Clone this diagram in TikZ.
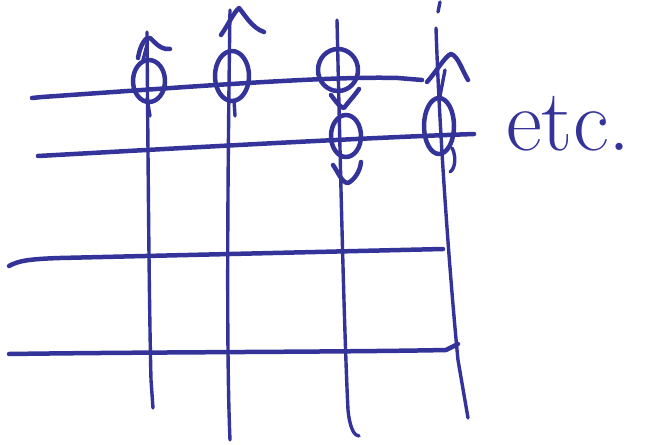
\documentclass[tikz,border=0pt]{standalone}
\begin{document}
\begin{tikzpicture}[x=1pt,y=-1pt,
  ink/.style={draw=penblue,line width=4.5pt,line cap=round,line join=round},
  thinink/.style={draw=penblue,line width=3.4pt,line cap=round,line join=round}]
\definecolor{penblue}{HTML}{33339A}
\useasboundingbox (0,0) rectangle (655,444);
% horizontal lines
\draw[ink] (32,98) -- (42,97) .. controls (200,86) and (330,76) .. (398,78) -- (422,80);
\draw[ink] (38,156) .. controls (200,147) and (360,138) .. (474,134);
\draw[ink] (9,266) .. controls (18,261) and (28,259) .. (60,258) -- (443,249);
\draw[ink] (9,354) .. controls (150,352) and (350,352) .. (446,350) -- (458,344);
% vertical lines
\draw[thinink] (147,32) .. controls (148,150) and (149,300) .. (151,380) -- (153,408);
\draw[thinink] (230,10) .. controls (228,150) and (226,350) .. (230,440);
\draw[thinink] (337,20) .. controls (340,150) and (344,330) .. (348,410) .. controls (350,430) and (355,436) .. (359,436);
\draw[thinink] (436,28) .. controls (440,150) and (452,300) .. (458,360) -- (468,418);
\draw[thinink] (440,2) -- (438,12);
% spin 1 (up)
\draw[ink] (149,81) ellipse [x radius=16, y radius=21];
\draw[ink] (138,58) .. controls (140,45) and (146,36) .. (150,38) .. controls (155,42) and (160,50) .. (170,49);
\draw[thinink] (143,60) -- (147,45);
\draw[thinink] (147,98) -- (150,116);
% spin 2 (up)
\draw[ink] (232,76) ellipse [x radius=17, y radius=25];
\draw[ink] (221,35) .. controls (228,25) and (234,12) .. (239,8) .. controls (245,15) and (252,28) .. (264,32);
\draw[thinink] (234,100) -- (235,116);
% spin 3 upper
\draw[ink] (338,70) ellipse [x radius=20, y radius=21];
\draw[ink] (331,95) .. controls (336,102) and (341,108) .. (344,108) .. controls (350,100) and (355,95) .. (359,89);
% spin 3 lower (down)
\draw[ink] (346,136) ellipse [x radius=15, y radius=21];
\draw[ink] (333,165) .. controls (338,172) and (342,183) .. (348,183) .. controls (354,180) and (360,172) .. (361,162);
% spin 4 (up)
\draw[ink] (439,126) ellipse [x radius=15, y radius=28];
\draw[ink] (427,82) .. controls (436,72) and (446,55) .. (451,54) .. controls (458,56) and (462,70) .. (468,80);
\draw[thinink] (440,96) -- (445,70);
\draw[thinink] (452,148) .. controls (456,155) and (456,168) .. (450,172);
% etc.
\node[text=penblue,anchor=base west,inner sep=0pt,font=\fontsize{88}{88}\selectfont] (etc) at (506,150) {etc.};
\end{tikzpicture}
\end{document}
